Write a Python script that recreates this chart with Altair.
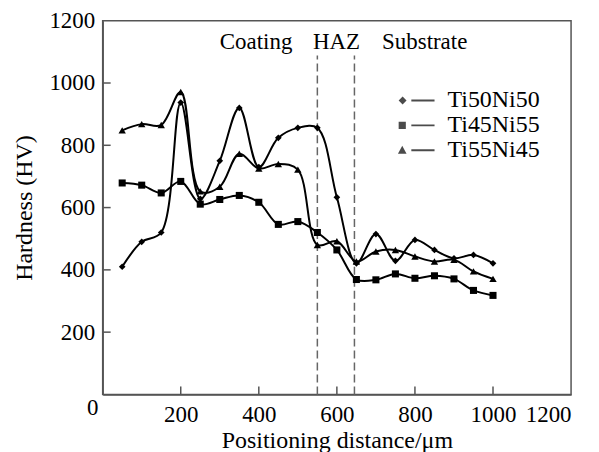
import altair as alt
import pandas as pd

# ---- data ----
positions = [50, 100, 150, 200, 250, 300, 350, 400, 450, 500,
             550, 600, 650, 700, 750, 800, 850, 900, 950, 1000]
series_names = ["Ti50Ni50", "Ti45Ni55", "Ti55Ni45"]
ti50ni50 = [410, 490, 520, 937, 628, 750, 920, 730, 824, 856,
            856, 633, 421, 515, 429, 496, 464, 437, 448, 421]
ti45ni55 = [679, 672, 647, 684, 611, 626, 639, 617, 546, 555,
            520, 464, 369, 368, 387, 373, 381, 371, 334, 318]
ti55ni45 = [848, 868, 865, 971, 652, 667, 773, 725, 740, 722,
            480, 492, 427, 459, 464, 443, 427, 432, 395, 371]

region_labels = ["Coating", "HAZ", "Substrate"]
region_centres = [393, 599, 825]
region_label_y = [1130, 1130, 1130]
boundaries = [550, 645]
boundary_top = [1088, 1088]

x_ticks = [0, 200, 400, 600, 800, 1000, 1200]
y_ticks = [0, 200, 400, 600, 800, 1000, 1200]
inner_x_ticks = [200, 400, 600, 800, 1000]
inner_y_ticks = [200, 400, 600, 800, 1000]

rows = []
for name, vals in zip(series_names, [ti50ni50, ti45ni55, ti55ni45]):
    for p, v in zip(positions, vals):
        rows.append({"x": p, "y": v, "series": name})
df = pd.DataFrame(rows)

regions_df = pd.DataFrame({"x": region_centres, "y": region_label_y, "t": region_labels})
bound_df = pd.DataFrame({"x": boundaries, "y": [0, 0], "y2": boundary_top})
xt_df = pd.DataFrame({"v": inner_x_ticks})
yt_df = pd.DataFrame({"v": inner_y_ticks})
zero_df = pd.DataFrame({"x": [0], "y": [0], "t": ["0"]})

FONT = "'Liberation Serif', 'Times New Roman', Times, serif"
FS = 23
AX = "#555555"

xscale = alt.Scale(domain=[0, 1200], nice=False, zero=False)
yscale = alt.Scale(domain=[0, 1200], nice=False, zero=False)

X = alt.X("x:Q", scale=xscale, axis=alt.Axis(
    title="Positioning distance/\u03bcm", values=x_ticks, format="d",
    labelExpr="datum.value == 0 ? '' : datum.label",
    labelPadding=9, titleBaseline="alphabetic", titleY=53, titleFontSize=24))
Y = alt.Y("y:Q", scale=yscale, axis=alt.Axis(
    title="Hardness (HV)", values=y_ticks, format="d",
    labelExpr="datum.value == 0 ? '' : datum.label",
    labelPadding=8, titlePadding=12, titleFontSize=24))

base = alt.Chart(df)

lines = base.mark_line(interpolate="catmull-rom", color="black", strokeWidth=2).encode(
    x=X, y=Y, detail="series:N")

points = base.mark_point(filled=True, color="black", opacity=1).encode(
    x="x:Q", y="y:Q",
    shape=alt.Shape("series:N", scale=alt.Scale(domain=series_names,
                    range=["diamond", "square", "triangle-up"]), legend=None),
    size=alt.Size("series:N", scale=alt.Scale(domain=series_names, range=[45, 55, 50]),
                  legend=None))

seg = " M-0.94,-0.08 L1,-0.08 L1,0.08 L-0.94,0.08 Z"
legend_paths = [
    "M-1.67,-0.33 L-1.34,0 L-1.67,0.33 L-2.0,0 Z" + seg,
    "M-2.0,-0.3 L-1.4,-0.3 L-1.4,0.3 L-2.0,0.3 Z" + seg,
    "M-1.7,-0.38 L-1.34,0.3 L-2.06,0.3 Z" + seg,
]
legend_layer = base.transform_filter("datum.x < 0").mark_point(
    filled=True, color="black").encode(
    x="x:Q", y="y:Q",
    shape=alt.Shape("sname:N", scale=alt.Scale(domain=series_names, range=legend_paths),
                    legend=alt.Legend(title=None, orient="none", legendX=308, legendY=67,
                                      symbolSize=576, labelOffset=12, rowPadding=0,
                                      padding=0, labelLimit=0,
                                      symbolFillColor="black",
                                      labelFont=FONT, labelFontSize=24, labelColor="black"))
).transform_calculate(sname="datum.series")

bounds = alt.Chart(bound_df).mark_rule(color="#666666", strokeWidth=1.5, strokeDash=[8, 4]).encode(
    x="x:Q", y="y:Q", y2="y2:Q")

region_text = alt.Chart(regions_df).mark_text(font=FONT, fontSize=FS, color="black",
                                              baseline="middle").encode(
    x="x:Q", y="y:Q", text="t:N")

zero_text = alt.Chart(zero_df).mark_text(font=FONT, fontSize=FS, color="black",
                                         dx=-10, dy=14).encode(x="x:Q", y="y:Q", text="t:N")

xticks = alt.Chart(xt_df).mark_rule(color=AX, strokeWidth=1.5).encode(
    x="v:Q", y=alt.value(375), y2=alt.value(367))
yticks = alt.Chart(yt_df).mark_rule(color=AX, strokeWidth=1.5).encode(
    y="v:Q", x=alt.value(0), x2=alt.value(8))

chart = alt.layer(bounds, lines, points, legend_layer, region_text, zero_text, xticks, yticks).resolve_scale(
    shape="independent"
).properties(
    width=470, height=375,
    autosize=alt.AutoSizeParams(type="none"),
    padding={"left": 95, "top": 12, "right": 20, "bottom": 57},
).configure_view(stroke=AX, strokeWidth=1.5).configure_axis(
    labelFont=FONT, labelFontSize=FS, labelColor="black",
    titleFont=FONT, titleFontSize=24, titleFontWeight="normal", titleColor="black",
    domainColor=AX, domainWidth=1.5, ticks=False, grid=False,
)

chart.save("out.html", embed_options={"renderer": "svg", "actions": False})
